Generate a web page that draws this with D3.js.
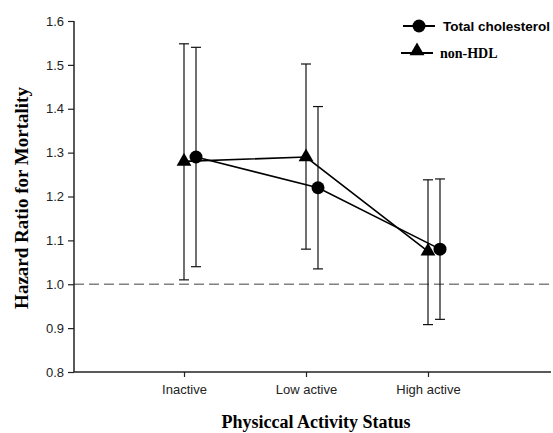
<!DOCTYPE html>
<html><head><meta charset="utf-8">
<script src="https://cdn.jsdelivr.net/npm/d3@7"></script>
<style>body{margin:0;background:#fff}</style>
</head><body>
<svg id="c" width="553" height="433"></svg>
<script>
const categories = ["Inactive", "Low active", "High active"];
const yTicks = [0.8, 0.9, 1.0, 1.1, 1.2, 1.3, 1.4, 1.5, 1.6];
const totalChol = [1.29, 1.22, 1.08];
const totalCholLow = [1.04, 1.035, 0.92];
const totalCholHigh = [1.54, 1.405, 1.24];
const nonHDL = [1.28, 1.29, 1.075];
const nonHDLLow = [1.01, 1.08, 0.908];
const nonHDLHigh = [1.548, 1.502, 1.238];
const refValue = 1.0;

const svg = d3.select("#c");
const L = 74, R = 553, T = 21, B = 372;
const y = d3.scaleLinear().domain([0.8, 1.6]).range([B, T]);
const x = d3.scalePoint().domain(categories).range([184, 428]);
const offset = { chol: 12, hdl: 0 };

svg.append("line").attr("x1", L).attr("x2", R).attr("y1", y(refValue)).attr("y2", y(refValue))
  .attr("stroke", "#808080").attr("stroke-width", 1.5).attr("stroke-dasharray", "10,5");

const yAxis = d3.axisLeft(y).tickValues(yTicks).tickFormat(d3.format(".1f")).tickSize(6).tickPadding(4);
const gy = svg.append("g").attr("transform", `translate(${L},0)`).call(yAxis);
gy.select(".domain").attr("stroke", "#222").attr("stroke-width", 1.5).attr("d", `M0,${T}V${B}`);
gy.selectAll(".tick line").attr("stroke", "#222").attr("stroke-width", 1.2);
gy.selectAll(".tick text").attr("font-family", "Liberation Sans, Arial, sans-serif").attr("font-size", 13).attr("fill", "#222");

const xAxis = d3.axisBottom(x).tickSize(5).tickPadding(8);
const gx = svg.append("g").attr("transform", `translate(0,${B})`).call(xAxis);
gx.select(".domain").attr("stroke", "#222").attr("stroke-width", 1.5).attr("d", `M${L},0H${551}`);
gx.selectAll(".tick line").attr("stroke", "#222").attr("stroke-width", 1.2);
gx.selectAll(".tick text").attr("font-family", "Liberation Sans, Arial, sans-serif").attr("font-size", 13).attr("fill", "#222");

function series(vals, lo, hi, off) {
  const g = svg.append("g");
  g.append("path").datum(vals)
    .attr("d", d3.line().x((d, i) => x(categories[i]) + off).y(d => y(d)))
    .attr("fill", "none").attr("stroke", "#000").attr("stroke-width", 1.6);
  categories.forEach((c, i) => {
    const cx = x(c) + off;
    g.append("line").attr("x1", cx).attr("x2", cx).attr("y1", y(lo[i])).attr("y2", y(hi[i]))
      .attr("stroke", "#111").attr("stroke-width", 1.2);
    [lo[i], hi[i]].forEach(v => {
      g.append("line").attr("x1", cx - 5).attr("x2", cx + 5).attr("y1", y(v)).attr("y2", y(v))
        .attr("stroke", "#111").attr("stroke-width", 1.2);
    });
  });
  return g;
}

const gh = series(nonHDL, nonHDLLow, nonHDLHigh, offset.hdl);
const gc = series(totalChol, totalCholLow, totalCholHigh, offset.chol);

const tri = d3.symbol().type(d3.symbolTriangle).size(95);
nonHDL.forEach((v, i) => {
  gh.append("path").attr("d", tri()).attr("transform", `translate(${x(categories[i]) + offset.hdl},${y(v)})`).attr("fill", "#000");
});
totalChol.forEach((v, i) => {
  gc.append("circle").attr("cx", x(categories[i]) + offset.chol).attr("cy", y(v)).attr("r", 6.5).attr("fill", "#000");
});

const lg = svg.append("g");
lg.append("line").attr("x1", 403).attr("x2", 435).attr("y1", 26).attr("y2", 26).attr("stroke", "#000").attr("stroke-width", 2);
lg.append("circle").attr("cx", 419).attr("cy", 26).attr("r", 6.5).attr("fill", "#000");
lg.append("text").attr("x", 443).attr("y", 31).text("Total cholesterol")
  .attr("font-family", "Liberation Sans, Arial, sans-serif").attr("font-weight", "bold").attr("font-size", 13.5).attr("fill", "#000");
lg.append("line").attr("x1", 401).attr("x2", 433).attr("y1", 53).attr("y2", 53).attr("stroke", "#000").attr("stroke-width", 2);
lg.append("path").attr("d", tri()).attr("transform", "translate(417,51)").attr("fill", "#000");
lg.append("text").attr("x", 440).attr("y", 57.5).text("non-HDL")
  .attr("font-family", "Liberation Serif, Times New Roman, serif").attr("font-weight", "bold").attr("font-size", 14).attr("fill", "#000");

svg.append("text").attr("transform", "translate(28,198) rotate(-90)").attr("text-anchor", "middle")
  .text("Hazard Ratio for Mortality")
  .attr("font-family", "Liberation Serif, Times New Roman, serif").attr("font-weight", "bold").attr("font-size", 19);
svg.append("text").attr("x", 316).attr("y", 428).attr("text-anchor", "middle")
  .text("Physiccal Activity Status")
  .attr("font-family", "Liberation Serif, Times New Roman, serif").attr("font-weight", "bold").attr("font-size", 18);
</script>
</body></html>
